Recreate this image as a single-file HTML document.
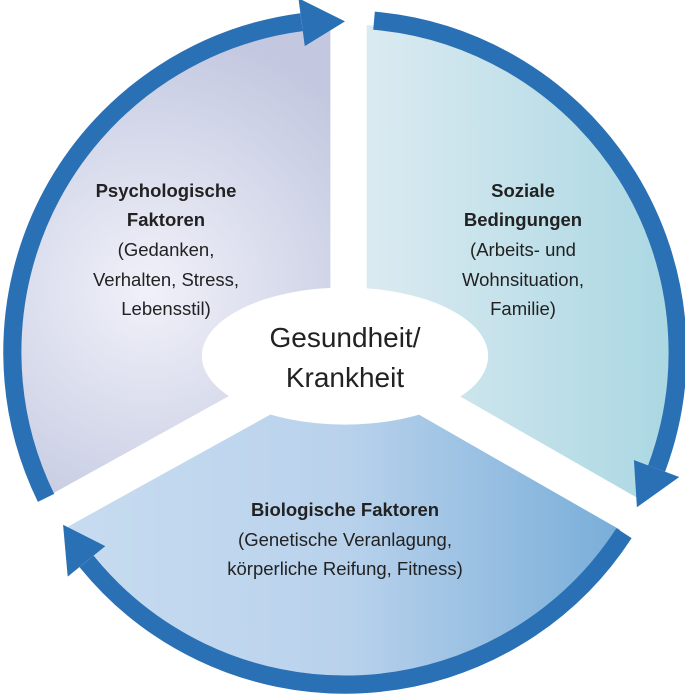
<!DOCTYPE html>
<html><head><meta charset="utf-8"><style>
html,body{margin:0;padding:0;background:#fff;}
svg{display:block;}
text{font-family:"Liberation Sans",sans-serif;fill:#222;text-anchor:middle;}
.b{font-weight:bold;}
</style></head><body>
<svg width="685" height="700" viewBox="0 0 685 700" xmlns="http://www.w3.org/2000/svg">
<defs>
<radialGradient id="gl" cx="150" cy="290" r="260" gradientUnits="userSpaceOnUse">
<stop offset="0" stop-color="#f0f1f9"/><stop offset="1" stop-color="#c3c8e0"/>
</radialGradient>
<linearGradient id="gr" x1="367" y1="0" x2="680" y2="0" gradientUnits="userSpaceOnUse">
<stop offset="0" stop-color="#dbeaf1"/><stop offset="1" stop-color="#a9d7e2"/>
</linearGradient>
<linearGradient id="gb" x1="60" y1="0" x2="630" y2="0" gradientUnits="userSpaceOnUse">
<stop offset="0" stop-color="#c8dcf0"/><stop offset="0.5" stop-color="#b9d2ec"/><stop offset="1" stop-color="#76acd8"/>
</linearGradient>
</defs>
<g transform="translate(345 352) scale(1.008) translate(-345 -352)">
<path d="M345,352 L63.5,514.5 A325,325 0 0 1 345,27 Z" fill="url(#gl)"/>
<path d="M345,352 L345,27 A325,325 0 0 1 626.5,514.5 Z" fill="url(#gr)"/>
<path d="M345,352 L626.5,514.5 A325,325 0 0 1 63.5,514.5 Z" fill="url(#gb)"/>
<g stroke="#fff" stroke-width="36">
<line x1="348.5" y1="352" x2="348.5" y2="0"/>
<line x1="346" y1="352" x2="46" y2="518"/>
<line x1="346" y1="352" x2="650" y2="526"/>
</g>
<ellipse cx="345" cy="356" rx="142" ry="68" fill="#fff"/>
<g fill="none" stroke="#2a70b5" stroke-width="18">
<path d="M48.4,496.7 A330,330 0 0 1 301.9,24.8"/>
<path d="M373.8,23.3 A330,330 0 0 1 654.1,467.6"/>
<path d="M621.8,531.7 A330,330 0 0 1 88.6,559.7"/>
</g>
<g fill="#2a70b5">
<polygon points="298.8,1 345,24 305.1,48.6"/>
<polygon points="676.6,476 634.6,506 631.6,459.2"/>
<polygon points="107.2,544.6 65.3,523.4 69.9,574.8"/>
</g>
</g>
<g font-size="18.5">
<text x="166" y="197" class="b">Psychologische</text>
<text x="166" y="226" class="b">Faktoren</text>
<text x="166" y="256">(Gedanken,</text>
<text x="166" y="286">Verhalten, Stress,</text>
<text x="166" y="315">Lebensstil)</text>
<text x="523" y="197" class="b">Soziale</text>
<text x="523" y="226" class="b">Bedingungen</text>
<text x="523" y="256">(Arbeits- und</text>
<text x="523" y="286">Wohnsituation,</text>
<text x="523" y="315">Familie)</text>
<text x="345" y="516" class="b">Biologische Faktoren</text>
<text x="345" y="546">(Genetische Veranlagung,</text>
<text x="345" y="575">körperliche Reifung, Fitness)</text>
</g>
<g font-size="28">
<text x="345" y="347">Gesundheit/</text>
<text x="345" y="387">Krankheit</text>
</g>
</svg>
</body></html>
